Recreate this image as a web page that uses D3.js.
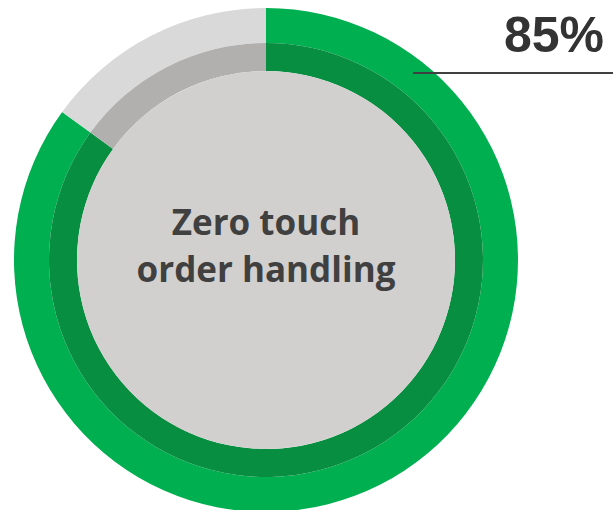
<!DOCTYPE html>
<html>
<head>
<meta charset="utf-8">
<script src="https://cdn.jsdelivr.net/npm/d3@7"></script>
<style>
  html, body { margin: 0; padding: 0; background: #fff; }
  svg { display: block; }
</style>
</head>
<body>
<div id="chart"></div>
<script>
const categories = ['Done', 'Remaining'];
const values = [85, 15];
const centerLines = ['Zero touch', 'order handling'];
const valueLabel = '85%';

const width = 613;
const height = 510;
const cx = 266, cy = 260;

const outerColors = ['#00af50', '#d9d9d9'];
const innerColors = ['#078e40', '#b2b0af'];

const svg = d3.select('#chart')
  .append('svg')
  .attr('width', width)
  .attr('height', height);

const g = svg.append('g')
  .attr('transform', `translate(${cx},${cy})`);

const pie = d3.pie().sort(null).value(d => d);
const slices = pie(values);

// outer ring
const outerArc = d3.arc().innerRadius(217).outerRadius(252);
g.selectAll('path.outer')
  .data(slices)
  .enter().append('path')
  .attr('class', 'outer')
  .attr('fill', (d, i) => outerColors[i])
  .attr('d', outerArc);

// inner ring
const innerArc = d3.arc().innerRadius(189).outerRadius(217);
g.selectAll('path.inner')
  .data(slices)
  .enter().append('path')
  .attr('class', 'inner')
  .attr('fill', (d, i) => innerColors[i])
  .attr('d', innerArc);

// center disc
g.append('circle')
  .attr('r', 189)
  .attr('fill', '#d2d0cf');

// center text
g.selectAll('text.center')
  .data(centerLines)
  .enter().append('text')
  .attr('class', 'center')
  .attr('x', 0)
  .attr('y', (d, i) => -25 + i * 47)
  .attr('text-anchor', 'middle')
  .style('font-family', '"Open Sans", sans-serif')
  .style('font-weight', 700)
  .style('font-size', '35px')
  .style('fill', '#404040')
  .text(d => d);

// value label with leader line
svg.append('line')
  .attr('x1', 413)
  .attr('x2', 613)
  .attr('y1', 73)
  .attr('y2', 73)
  .attr('stroke', '#404040')
  .attr('stroke-width', 2);

svg.append('text')
  .attr('x', 604)
  .attr('y', 52)
  .attr('text-anchor', 'end')
  .style('font-family', '"Liberation Sans", Arial, sans-serif')
  .style('font-weight', 700)
  .style('font-size', '50px')
  .style('fill', '#333333')
  .text(valueLabel);
</script>
</body>
</html>
